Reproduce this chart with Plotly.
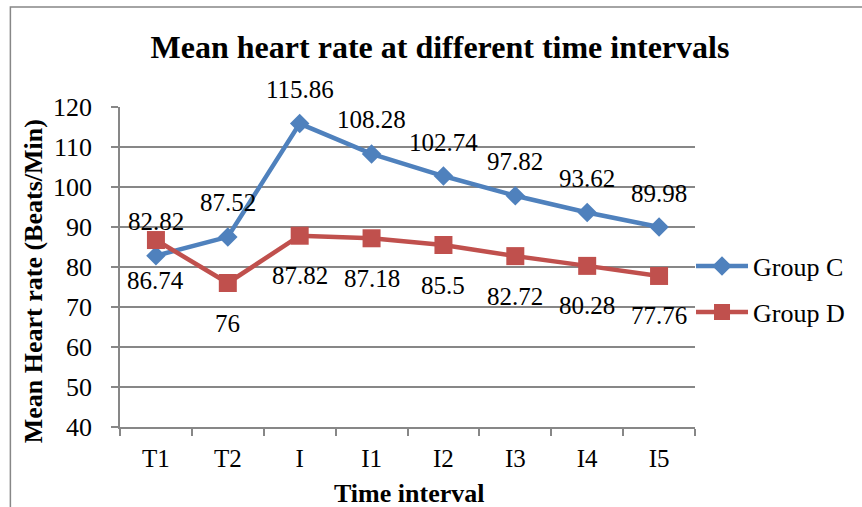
import plotly.graph_objects as go

categories = ["T1", "T2", "I", "I1", "I2", "I3", "I4", "I5"]
group_c = [82.82, 87.52, 115.86, 108.28, 102.74, 97.82, 93.62, 89.98]
group_d = [86.74, 76, 87.82, 87.18, 85.5, 82.72, 80.28, 77.76]
y_ticks = [40, 50, 60, 70, 80, 90, 100, 110, 120]

BLUE = "#4F81BD"
RED = "#C0504D"
GRID = "#878787"
FONT = "Liberation Serif"

# plot area in pixels
L, R, T, B = 120, 697, 107, 427
W, H = R - L, B - T


def px(x):
    return (x - L) / W


def py(y):
    return (B - y) / H


fig = go.Figure()
fig.add_trace(go.Scatter(
    x=categories, y=group_c, name="Group C", mode="lines+markers",
    line=dict(color=BLUE, width=4.5),
    marker=dict(symbol="diamond", size=15, color=BLUE),
    legend="legend", showlegend=True,
))
fig.add_trace(go.Scatter(
    x=categories, y=group_d, name="Group D", mode="lines+markers",
    line=dict(color=RED, width=4.5),
    marker=dict(symbol="square", size=18, color=RED),
    legend="legend2", showlegend=True,
))

annotations = []
for c, v in zip(categories, group_c):
    annotations.append(dict(x=c, y=v, text=f"{v:g}", showarrow=False,
                            yshift=34, font=dict(family=FONT, size=25, color="black")))
for c, v in zip(categories, group_d):
    annotations.append(dict(x=c, y=v, text=f"{v:g}", showarrow=False,
                            yshift=-40, font=dict(family=FONT, size=25, color="black")))

annotations.append(dict(xref="paper", yref="paper", x=px(410), y=py(493),
                        text="<b>Time interval</b>", showarrow=False,
                        xanchor="center", yanchor="middle",
                        font=dict(family=FONT, size=26, color="black")))
annotations.append(dict(xref="paper", yref="paper", x=px(33), y=py(281),
                        text="<b>Mean Heart rate (Beats/Min)</b>", showarrow=False,
                        textangle=-90, xanchor="center", yanchor="middle",
                        font=dict(family=FONT, size=26, color="black")))

fig.update_layout(
    width=862, height=507,
    margin=dict(l=L, r=862 - R, t=T, b=507 - B),
    paper_bgcolor="white", plot_bgcolor="white",
    showlegend=True,
    font=dict(family=FONT, size=24, color="black"),
    title=dict(text="<b>Mean heart rate at different time intervals</b>",
               x=440 / 862, xanchor="center", y=1 - 47 / 507, yanchor="middle",
               font=dict(family=FONT, size=32, color="black")),
    xaxis=dict(type="category", range=[-0.5, 7.5], showgrid=False,
               showline=True, linecolor=GRID, linewidth=1.5,
               ticks="outside", tickson="boundaries", ticklen=7, tickcolor=GRID,
               tickwidth=1.5, tickfont=dict(size=25), ticklabelstandoff=8),
    yaxis=dict(range=[40, 120], tickvals=y_ticks, showgrid=True,
               gridcolor=GRID, gridwidth=1.5, zeroline=False,
               showline=True, linecolor=GRID, linewidth=1.5,
               ticks="outside", ticklen=7, tickcolor=GRID, tickwidth=1.5,
               tickfont=dict(size=26), ticklabelstandoff=14),
    legend=dict(x=px(693), y=py(266), xanchor="left", yanchor="middle",
                font=dict(size=26), bgcolor="rgba(0,0,0,0)", itemwidth=52),
    legend2=dict(x=px(693), y=py(312), xanchor="left", yanchor="middle",
                 font=dict(size=26), bgcolor="rgba(0,0,0,0)", itemwidth=52),
    annotations=annotations,
    shapes=[dict(type="rect", xref="paper", yref="paper",
                 x0=px(10), x1=px(900), y0=py(560), y1=py(7),
                 line=dict(color=GRID, width=1.5), layer="below")],
)

fig.write_html("out.html", config={"displayModeBar": False},
               post_script="document.body.style.margin='0';")
